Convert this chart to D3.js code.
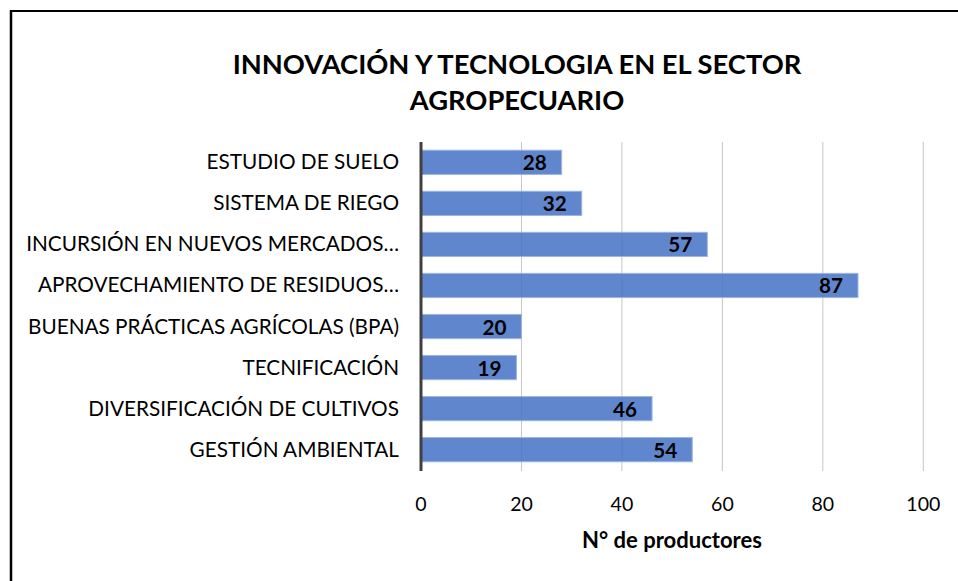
<!DOCTYPE html>
<html>
<head>
<meta charset="utf-8">
<script src="https://cdn.jsdelivr.net/npm/d3@7"></script>
<style>
  body { margin: 0; background: #fff; }
  svg text { font-family: Lato, "Open Sans", sans-serif; fill: #000; }
</style>
</head>
<body>
<div id="chart"></div>
<script>
// data
var categories = [
  "ESTUDIO DE SUELO",
  "SISTEMA DE RIEGO",
  "INCURSIÓN EN NUEVOS MERCADOS…",
  "APROVECHAMIENTO DE RESIDUOS…",
  "BUENAS PRÁCTICAS AGRÍCOLAS (BPA)",
  "TECNIFICACIÓN",
  "DIVERSIFICACIÓN DE CULTIVOS",
  "GESTIÓN AMBIENTAL"
];
var values = [28, 32, 57, 87, 20, 19, 46, 54];
var xTicks = [0, 20, 40, 60, 80, 100];
var titleLines = ["INNOVACIÓN Y TECNOLOGIA EN EL SECTOR", "AGROPECUARIO"];
var xTitle = "N° de productores";

var width = 958, height = 581;

var svg = d3.select("#chart").append("svg")
    .attr("width", width)
    .attr("height", height);

// frame (top and left edge only, like the cropped original)
svg.append("line").attr("x1", 11).attr("x2", width).attr("y1", 11).attr("y2", 11)
    .attr("stroke", "#000").attr("stroke-width", 2);
svg.append("line").attr("x1", 11).attr("x2", 11).attr("y1", 10).attr("y2", height)
    .attr("stroke", "#000").attr("stroke-width", 2.5);

var x = d3.scaleLinear().domain([0, 100]).range([421, 923.3]);
var y = d3.scaleBand().domain(categories).range([142, 470]).paddingInner(0.41).paddingOuter(0.2);

// shrink/grow a text node so it spans the given width
function fit(sel, target) {
  sel.each(function() {
    var fs = parseFloat(this.getAttribute("font-size"));
    var w = this.getComputedTextLength();
    if (w > 0) this.setAttribute("font-size", (fs * target / w).toFixed(2));
  });
}

// gridlines
svg.append("g").selectAll("line")
  .data(xTicks.slice(1))
  .enter().append("line")
    .attr("x1", function(d) { return x(d); })
    .attr("x2", function(d) { return x(d); })
    .attr("y1", 142).attr("y2", 471)
    .attr("stroke", "#c6c6c6").attr("stroke-width", 1);

// bars
svg.append("g").selectAll("rect")
  .data(values)
  .enter().append("rect")
    .attr("x", x(0))
    .attr("y", function(d, i) { return y(categories[i]); })
    .attr("width", function(d) { return x(d) - x(0); })
    .attr("height", y.bandwidth())
    .attr("fill", "#4472c4")
    .attr("fill-opacity", 0.85)
    .attr("stroke", "#9db5e0")
    .attr("stroke-width", 1);

// value labels
var vl = svg.append("g").selectAll("text")
  .data(values)
  .enter().append("text")
    .attr("x", function(d) { return x(d) - 15; })
    .attr("y", function(d, i) { return y(categories[i]) + y.bandwidth() / 2 + 8; })
    .attr("text-anchor", "end")
    .attr("font-weight", "bold")
    .attr("font-size", 20)
    .text(function(d) { return d; });
var vsize = 20;
vl.filter(function(d) { return d === 28; }).each(function() {
  vsize = 20 * 24 / this.getComputedTextLength();
});
vl.attr("font-size", vsize.toFixed(2));

// y axis line
svg.append("line")
    .attr("x1", x(0)).attr("x2", x(0))
    .attr("y1", 142).attr("y2", 471)
    .attr("stroke", "#404040").attr("stroke-width", 3);

// category labels
var cl = svg.append("g").selectAll("text")
  .data(categories)
  .enter().append("text")
    .attr("x", 399)
    .attr("y", function(d) { return y(d) + y.bandwidth() / 2 + 7; })
    .attr("text-anchor", "end")
    .attr("font-size", 18)
    .text(function(d) { return d; });
var csize = 18;
cl.filter(function(d, i) { return i === 4; }).each(function() {
  csize = 18 * 371 / this.getComputedTextLength();
});
cl.attr("font-size", csize.toFixed(2));

// x tick labels
var tl = svg.append("g").selectAll("text")
  .data(xTicks)
  .enter().append("text")
    .attr("x", function(d) { return x(d); })
    .attr("y", 511)
    .attr("text-anchor", "middle")
    .attr("font-size", 19)
    .text(function(d) { return d; });
var tsize = 19;
tl.filter(function(d) { return d === 100; }).each(function() {
  tsize = 19 * 34 / this.getComputedTextLength();
});
tl.attr("font-size", tsize.toFixed(2));

// axis title
svg.append("text")
    .attr("x", 672)
    .attr("y", 548)
    .attr("text-anchor", "middle")
    .attr("font-weight", "bold")
    .attr("font-size", 19)
    .text(xTitle)
    .call(fit, 180);

// chart title
var t1 = svg.append("text")
    .attr("x", 517).attr("y", 74)
    .attr("text-anchor", "middle")
    .attr("font-weight", "bold")
    .attr("font-size", 26)
    .text(titleLines[0]);
fit(t1, 569);
svg.append("text")
    .attr("x", 517).attr("y", 110)
    .attr("text-anchor", "middle")
    .attr("font-weight", "bold")
    .attr("font-size", t1.attr("font-size"))
    .text(titleLines[1]);
</script>
</body>
</html>
